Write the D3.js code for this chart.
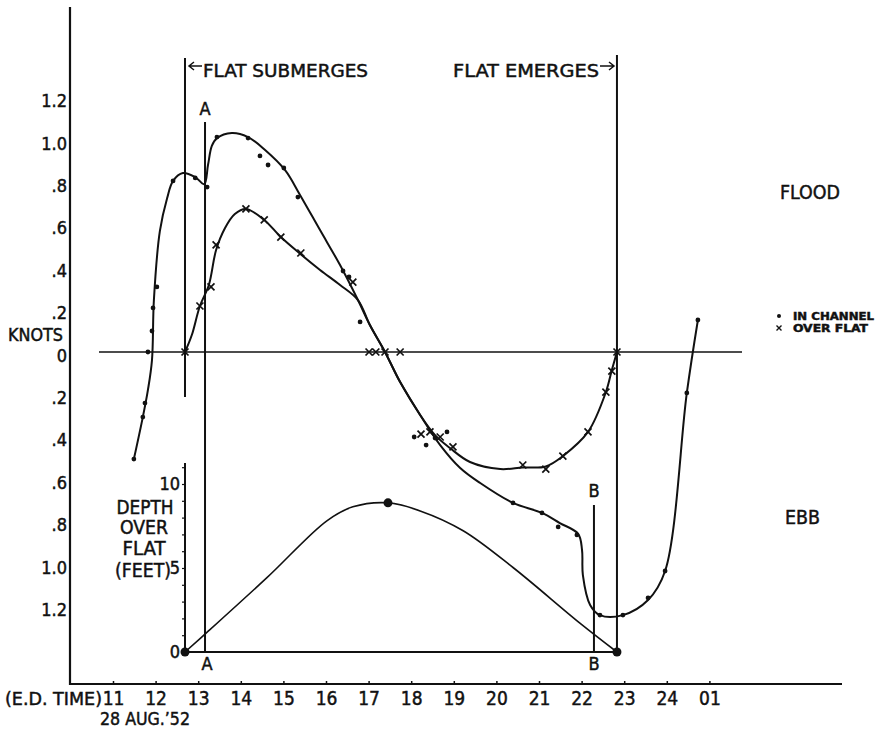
<!DOCTYPE html>
<html>
<head>
<meta charset="utf-8">
<script src="https://cdn.jsdelivr.net/npm/d3@7"></script>
<style>
body { margin: 0; background: #fff; }
text { font-family: "DejaVu Sans Condensed", "Liberation Sans Narrow", "DejaVu Sans", sans-serif; fill: #111; stroke: #111; stroke-width: 0.45; }
</style>
</head>
<body>
<div id="viz-container"></div>
<script>
// time in hours (25 = 01 next day), current in knots (ebb negative), depth in feet
let hourTicks = [11,12,13,14,15,16,17,18,19,20,21,22,23,24,25];
let hourLabels = ['11','12','13','14','15','16','17','18','19','20','21','22','23','24','01'];
let knotTicks = [1.2,1.0,0.8,0.6,0.4,0.2,0,-0.2,-0.4,-0.6,-0.8,-1.0,-1.2];
let depthTicks = [0,5,10];

let flatSubmerges = 12.69;
let flatEmerges = 22.83;
let timeA = 13.16;
let timeB = 22.29;

// smooth line drawn through the in-channel readings
let channelCurve = [
  [11.49,-0.505],[11.70,-0.307],[11.82,-0.179],[11.915,-0.038],[11.96,0.245],
  [12.10,0.570],[12.27,0.725],[12.41,0.807],[12.64,0.844],[12.93,0.825],
  [13.14,0.792],[13.23,0.882],[13.32,0.972],[13.44,1.009],[13.79,1.033],
  [14.17,1.014],[14.57,0.953],[15.04,0.858],[15.39,0.741],[15.86,0.575],
  [16.33,0.410],[16.75,0.245],[17.03,0.127],[17.385,0],[17.74,-0.142],
  [18.21,-0.297],[18.68,-0.439],[19.15,-0.547],[19.62,-0.618],[20.39,-0.712],
  [21.07,-0.759],[21.49,-0.807],[21.92,-0.858],[22.01,-0.934],[22.03,-1.052],
  [22.20,-1.193],[22.43,-1.241],[22.97,-1.241],[23.56,-1.170],[23.96,-1.033],
  [24.47,-0.193],[24.73,0.151]
];
let channelPoints = [
  [11.49,-0.505],[11.70,-0.307],[11.75,-0.241],[11.82,0],[11.915,0.099],
  [11.94,0.208],[12.03,0.307],[12.41,0.807],[12.93,0.821],[13.21,0.778],
  [13.44,1.014],[14.17,1.009],[14.45,0.925],[14.64,0.882],[15.01,0.868],
  [15.34,0.731],[16.40,0.382],[16.54,0.354],[16.80,0.142],[18.07,-0.401],
  [18.35,-0.439],[18.56,-0.406],[18.84,-0.377],[20.39,-0.712],[21.07,-0.759],
  [21.45,-0.825],[21.89,-0.863],[22.43,-1.241],[22.97,-1.241],[23.56,-1.160],
  [23.96,-1.033],[24.47,-0.193],[24.73,0.151]
];

// smooth line drawn through the over-flat readings
let flatCurve = [
  [12.69,0],[12.85,0.080],[13.04,0.217],[13.25,0.316],[13.42,0.481],
  [13.63,0.585],[13.86,0.651],[14.12,0.675],[14.55,0.623],[14.94,0.542],
  [15.37,0.467],[15.86,0.387],[16.33,0.316],[16.75,0.245],[17.03,0.127],
  [17.385,0],[17.74,-0.142],[18.21,-0.297],[18.56,-0.392],[18.91,-0.453],
  [19.38,-0.519],[20.09,-0.552],[20.62,-0.545],[21.16,-0.540],[21.56,-0.491],
  [22.15,-0.377],[22.57,-0.189],[22.71,-0.085],[22.83,0]
];
let flatPoints = [
  [12.69,0],[13.04,0.217],[13.30,0.307],[13.42,0.505],[14.12,0.675],
  [14.55,0.623],[14.94,0.542],[15.41,0.467],[16.63,0.330],[17.01,0],
  [17.17,0],[17.385,0],[17.74,0],[18.23,-0.387],[18.44,-0.377],
  [18.68,-0.401],[18.98,-0.448],[20.62,-0.533],[21.16,-0.552],[21.56,-0.491],
  [22.15,-0.377],[22.57,-0.189],[22.71,-0.090],[22.83,0]
];

// depth of water over the flat
let depthCurve = [
  [12.69,0],[13.21,1.18],[14.62,4.44],[16.02,7.81],[16.63,8.64],[17.455,8.88],
  [18.21,8.40],[19.22,7.22],[20.39,5.03],[21.96,1.72],[22.83,0]
];
let depthPoints = [[12.69,0],[17.455,8.88],[22.83,0]];

let W = 877, H = 730;

let viz = d3.select('#viz-container')
  .append('svg')
    .attr('width',W)
    .attr('height',H)
;

let x = d3.scaleLinear().domain([11,25]).range([113,709.4]);
let y = d3.scaleLinear().domain([0,1]).range([352,140]);
let yDepth = d3.scaleLinear().domain([0,10]).range([652,484]);

let axisY = 684;
let leftX = 70;

function ink(sel, w){
  return sel.attr('stroke','#111').attr('stroke-width',w).attr('fill','none');
}

// main frame
ink(viz.append('line').attr('x1',leftX).attr('x2',leftX).attr('y1',7).attr('y2',axisY+1), 2.2);
ink(viz.append('line').attr('x1',leftX).attr('x2',842).attr('y1',axisY).attr('y2',axisY), 2.2);

// time axis
let gx = viz.append('g')
  .attr('transform','translate(0,'+axisY+')')
  .call(d3.axisBottom(x).tickValues(hourTicks)
    .tickFormat((d,i)=>hourLabels[i])
    .tickSizeInner(-3).tickSizeOuter(0).tickPadding(8));
gx.select('.domain').remove();
gx.selectAll('line').attr('stroke','#111').attr('stroke-width',1.5);
gx.selectAll('text').attr('font-size',19).attr('fill','#111');

// knots axis
function knotFormat(v){
  let a = Math.abs(v);
  if (a == 0) return '0';
  if (a < 1) return a.toFixed(1).slice(1);
  return a.toFixed(1);
}
let gy = viz.append('g')
  .attr('transform','translate('+leftX+',0)')
  .call(d3.axisLeft(y).tickValues(knotTicks).tickFormat(knotFormat)
    .tickSizeInner(0).tickSizeOuter(0).tickPadding(3));
gy.select('.domain').remove();
gy.selectAll('text').attr('font-size',18).attr('dy','0.5em').attr('fill','#111');

// zero line
ink(viz.append('line').attr('x1',99).attr('x2',742).attr('y1',y(0)).attr('y2',y(0)), 1.6);

// depth axis
ink(viz.append('line').attr('x1',x(flatSubmerges)).attr('x2',x(flatSubmerges))
  .attr('y1',463).attr('y2',yDepth(0)), 2);
let gd = viz.append('g')
  .attr('transform','translate('+x(flatSubmerges)+',0)')
  .call(d3.axisLeft(yDepth).tickValues(d3.range(0,12))
    .tickFormat(d => depthTicks.includes(d) ? d : '')
    .tickSizeInner(3).tickSizeOuter(0).tickPadding(2));
gd.select('.domain').remove();
gd.selectAll('line').attr('stroke','#111').attr('stroke-width',1.2);
gd.selectAll('text').attr('font-size',18).attr('fill','#111');

// depth baseline
ink(viz.append('line').attr('x1',x(flatSubmerges)).attr('x2',x(flatEmerges))
  .attr('y1',yDepth(0)).attr('y2',yDepth(0)), 2.2);

// event lines
ink(viz.append('line').attr('x1',x(flatSubmerges)).attr('x2',x(flatSubmerges)).attr('y1',58).attr('y2',397), 2);
ink(viz.append('line').attr('x1',x(timeA)).attr('x2',x(timeA)).attr('y1',122).attr('y2',yDepth(0)), 2);
ink(viz.append('line').attr('x1',x(flatEmerges)).attr('x2',x(flatEmerges)).attr('y1',55).attr('y2',yDepth(0)), 2);
ink(viz.append('line').attr('x1',x(timeB)).attr('x2',x(timeB)).attr('y1',505).attr('y2',yDepth(0)), 2);

// curves
let knotLine = d3.line().x(d=>x(d[0])).y(d=>y(d[1])).curve(d3.curveCatmullRom.alpha(0.5));
let depthLine = d3.line().x(d=>x(d[0])).y(d=>yDepth(d[1])).curve(d3.curveCatmullRom.alpha(0.5));

ink(viz.append('path').attr('d',knotLine(channelCurve)), 2);
ink(viz.append('path').attr('d',knotLine(flatCurve)), 2);
ink(viz.append('path').attr('d',depthLine(depthCurve)), 1.6);

// markers
viz.selectAll('circle.channel').data(channelPoints).enter()
  .append('circle')
    .attr('class','channel')
    .attr('cx',d=>x(d[0]))
    .attr('cy',d=>y(d[1]))
    .attr('r',2.4)
    .attr('fill','#111')
;
viz.selectAll('path.flat').data(flatPoints).enter()
  .append('path')
    .attr('class','flat')
    .attr('transform',d=>'translate('+x(d[0])+','+y(d[1])+')')
    .attr('d','M-3.5,-3.5L3.5,3.5M-3.5,3.5L3.5,-3.5')
    .attr('stroke','#111')
    .attr('stroke-width',1.7)
;
viz.selectAll('circle.depth').data(depthPoints).enter()
  .append('circle')
    .attr('class','depth')
    .attr('cx',d=>x(d[0]))
    .attr('cy',d=>yDepth(d[1]))
    .attr('r',4.5)
    .attr('fill','#111')
;

// labels
function label(txt, lx, ly, size, len, anchor){
  let t = viz.append('text')
    .attr('x',lx).attr('y',ly)
    .attr('font-size',size)
    .attr('text-anchor',anchor || 'start')
    .text(txt);
  if (len) t.attr('textLength',len).attr('lengthAdjust','spacingAndGlyphs');
  return t;
}

label('FLAT SUBMERGES', 203, 77, 18, 165);
label('FLAT EMERGES', 453, 77, 18, 146);
ink(viz.append('path').attr('d','M202,66 L189,66 M194,62 L189,66 L194,70'), 1.5);
ink(viz.append('path').attr('d','M600,66 L614,66 M609,62 L614,66 L609,70'), 1.5);

label('A', x(timeA), 115, 18, null, 'middle');
label('A', x(timeA)+2, 670, 18, null, 'middle');
label('B', x(timeB), 497, 18, null, 'middle');
label('B', x(timeB), 670, 18, null, 'middle');

label('KNOTS', 8, 341, 17, 55);
label('FLOOD', 780, 199, 19, 60);
label('EBB', 785, 524, 19, 35);
label('(E.D. TIME)', 5, 705, 18, 97);
label('28 AUG.\u201952', 100, 725, 18, 90);

label('DEPTH', 145, 514, 19, 57, 'middle');
label('OVER', 144, 534, 19, 48, 'middle');
label('FLAT', 144, 555, 19, 43, 'middle');
label('(FEET)', 143, 577, 19, 56, 'middle');

// legend
viz.append('circle').attr('cx',779).attr('cy',316).attr('r',2).attr('fill','#111');
viz.append('path').attr('transform','translate(779,328)')
  .attr('d','M-2.5,-2.5L2.5,2.5M-2.5,2.5L2.5,-2.5')
  .attr('stroke','#111').attr('stroke-width',1.4);
label('IN CHANNEL', 793, 320, 11, 81).attr('font-weight','bold');
label('OVER FLAT', 793, 332, 11, 75).attr('font-weight','bold');
</script>
</body>
</html>
